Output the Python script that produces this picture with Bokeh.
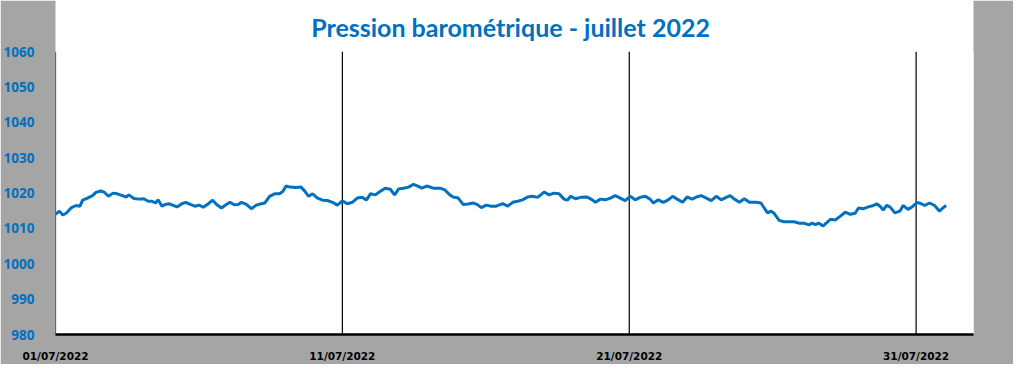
from bokeh.plotting import figure
from bokeh.models import FixedTicker, Range1d
from bokeh.embed import file_html
from bokeh.resources import INLINE
from bokeh.core.properties import value

# hours since 01/07/2022 00:00
hours = [0.0, 3.3, 6.1, 8.9, 13.0, 17.2, 20.5, 22.7, 26.8, 31.0, 33.8, 37.9, 40.7, 44.3, 48.2,
         51.7, 55.9, 59.2, 61.4, 65.6, 69.8, 73.9, 77.5, 80.8, 83.6, 85.8, 89.1, 91.9, 94.7,
         98.0, 101.6, 105.7, 109.0, 112.7, 116.8, 120.2, 123.7, 127.9, 131.5, 134.8, 138.9,
         141.7, 145.9, 149.5, 152.8,
         155.6, 159.7, 163.8, 168.0, 172.1, 175.0, 179.1, 183.3, 187.4, 190.2, 192.9, 196.2,
         201.2, 205.4, 208.2, 211.8, 215.1, 219.2, 223.4, 227.5, 231.7, 235.8, 240.0, 244.1,
         248.3, 252.4, 256.6, 260.2, 263.5, 267.6, 271.8, 275.9, 280.1, 283.7, 287.1, 291.2,
         295.4, 299.5, 303.7,
         306.4, 310.6, 316.1, 321.6, 325.8, 329.9, 332.7, 336.9, 341.0, 345.2, 349.3, 352.7,
         356.2, 360.4, 364.5, 368.7, 374.2, 378.4, 382.5, 386.7, 390.8, 395.0, 399.1, 403.3,
         408.8, 413.0, 417.1, 421.3, 425.4, 428.2, 431.0, 435.1, 439.3, 444.8, 449.0, 451.7,
         455.9,
         460.0, 464.2, 468.3, 472.5, 476.6, 480.8, 485.0, 489.1, 493.3, 497.4, 500.2, 504.3,
         508.5, 512.6, 516.3, 520.1, 524.6, 528.4, 532.8, 536.2, 540.3, 544.5, 548.6, 552.8,
         556.9, 561.1, 564.4, 568.0, 572.2, 576.3, 580.5, 586.0, 590.2, 592.9, 595.7, 598.5,
         601.2, 605.4, 609.5,
         613.7, 617.8, 622.0, 626.1, 630.3, 633.1, 635.8, 638.6, 642.2, 645.5, 648.3, 652.4,
         656.6, 660.7, 664.9, 669.0, 671.8, 676.0, 680.1, 684.3, 687.0, 689.8, 692.5, 695.3,
         698.1, 702.2, 706.4, 709.1, 713.3, 717.4, 720.8, 724.3, 727.1, 731.3, 735.4, 739.6,
         742.3, 745.1]

pressure = [1014.0, 1014.9, 1013.8, 1014.3, 1015.8, 1016.5, 1016.3, 1018.0, 1018.6, 1019.3,
            1020.2, 1020.6, 1020.3, 1019.1, 1020.0, 1019.8, 1019.3, 1018.9, 1019.5, 1018.5,
            1018.3, 1018.4, 1017.7, 1017.7, 1017.2, 1018.1, 1016.3, 1016.8, 1017.0, 1016.6,
            1016.1, 1017.0, 1017.4, 1016.8, 1016.3, 1016.6, 1016.0, 1017.0, 1018.0, 1016.8,
            1015.8, 1016.5, 1017.4, 1016.7, 1016.8,
            1017.4, 1016.8, 1015.6, 1016.6, 1017.0, 1017.2, 1019.1, 1019.8, 1019.8, 1020.5,
            1022.0, 1021.7, 1021.6, 1021.7, 1020.7, 1019.1, 1019.8, 1018.6, 1018.0, 1017.9,
            1017.4, 1016.6, 1017.8, 1017.0, 1017.4, 1018.6, 1018.8, 1018.1, 1019.8, 1019.5,
            1020.5, 1021.4, 1021.1, 1019.5, 1021.2, 1021.4, 1021.7, 1022.5, 1021.9,
            1021.4, 1022.0, 1021.4, 1021.4, 1020.9, 1019.5, 1018.9, 1018.6, 1016.8, 1016.9,
            1017.2, 1016.8, 1015.9, 1016.6, 1016.3, 1016.3, 1017.0, 1016.3, 1017.4, 1017.7,
            1018.1, 1018.9, 1019.1, 1018.8, 1020.3, 1019.5, 1020.0, 1019.8, 1018.3, 1018.0,
            1019.1, 1018.4, 1018.8, 1018.9, 1018.1, 1017.4, 1018.3,
            1018.1, 1018.6, 1019.3, 1018.6, 1017.9, 1019.1, 1018.1, 1018.8, 1019.1, 1018.3,
            1017.2, 1018.1, 1017.4, 1018.1, 1019.1, 1018.3, 1017.4, 1018.9, 1018.3, 1018.9,
            1019.3, 1018.6, 1017.9, 1019.1, 1018.1, 1018.8, 1019.3, 1018.3, 1017.4, 1018.4,
            1017.4, 1017.4, 1017.2, 1015.8, 1014.4, 1014.9, 1014.3, 1012.3, 1011.9,
            1011.9, 1011.9, 1011.5, 1011.5, 1011.0, 1011.5, 1011.1, 1011.5, 1010.7, 1011.7,
            1012.6, 1012.4, 1013.5, 1014.6, 1014.0, 1014.3, 1015.8, 1015.6, 1016.1, 1016.5,
            1017.0, 1016.3, 1015.2, 1016.5, 1016.1, 1014.4, 1014.9, 1016.5, 1015.4, 1016.3,
            1017.4, 1017.0, 1016.5, 1017.2, 1016.5, 1014.9, 1015.8, 1016.5]

tick_days = [0, 10, 20, 30]
tick_labels = ["01/07/2022", "11/07/2022", "21/07/2022", "31/07/2022"]
y_ticks = [980, 990, 1000, 1010, 1020, 1030, 1040, 1050, 1060]
title_text = "Pression barométrique - juillet 2022"

days = [h / 24.0 for h in hours]

BG = "#A5A5A5"
BLUE = "#0070C0"

# layout geometry (pixels)
W, H = 1013, 364
LEFT, RIGHT, BOTTOM = 48, 40, 25
PLOT_H = 287                      # height of the 980..1060 band
FRAME_W = W - LEFT - RIGHT
FRAME_H = H - BOTTOM
Y0, Y1 = 980, 1060
X0, X1 = 0, 32
ppu_y = PLOT_H / (Y1 - Y0)
ppu_x = FRAME_W / (X1 - X0)
y_top = Y0 + FRAME_H / ppu_y      # frame extends up to the figure top (title space)

p = figure(width=W, height=H, output_backend="svg", toolbar_location=None,
           x_range=Range1d(X0, X1), y_range=Range1d(Y0, y_top),
           min_border_left=LEFT, min_border_right=RIGHT, min_border_top=0,
           min_border_bottom=BOTTOM)
p.background_fill_color = None
p.border_fill_color = BG
p.outline_line_color = None
p.xgrid.visible = False

# vertical grid lines (white every 2 days, black every 10 days), limited to the plot band
grid_days = [d for d in range(X0, X1 + 1, 2) if d not in tick_days]
p.segment(x0=grid_days, y0=[Y0] * len(grid_days), x1=grid_days, y1=[Y1] * len(grid_days),
          line_color="white", line_width=1.3)
p.segment(x0=tick_days, y0=[Y0] * len(tick_days), x1=tick_days, y1=[Y1] * len(tick_days),
          line_color="black", line_width=1.2)

p.ygrid.ticker = FixedTicker(ticks=y_ticks)
p.ygrid.grid_line_color = "white"
p.ygrid.grid_line_width = 1.3

p.line(days, pressure, line_color=BLUE, line_width=3)

# title (centered on the figure, baseline 27px below the figure top)
title_x = (W / 2 - LEFT) / ppu_x
title_y = y_top - 27 / ppu_y
p.text(x=[title_x], y=[title_y], text=[title_text], text_align="center",
       text_baseline="alphabetic", text_color=BLUE, text_font=value("Lato"),
       text_font_style=value("bold"), text_font_size=value("25px"))

# axes
p.xaxis.ticker = FixedTicker(ticks=tick_days)
p.xaxis.major_label_overrides = {d: l for d, l in zip(tick_days, tick_labels)}
p.xaxis.major_label_text_font = "DejaVu Sans"
p.xaxis.major_label_text_font_style = "bold"
p.xaxis.major_label_text_font_size = "10.5px"
p.xaxis.major_label_text_color = "black"
p.xaxis.major_label_standoff = 9
p.xaxis.axis_line_color = "black"
p.xaxis.axis_line_width = 2.5
p.xaxis.major_tick_line_color = None
p.xaxis.minor_tick_line_color = None

p.yaxis.ticker = FixedTicker(ticks=y_ticks)
p.yaxis.major_label_text_font = "Open Sans"
p.yaxis.major_label_text_font_style = "bold"
p.yaxis.major_label_text_font_size = "13.5px"
p.yaxis.major_label_text_color = BLUE
p.yaxis.major_label_standoff = 15
p.yaxis.axis_line_color = None
p.yaxis.major_tick_line_color = None
p.yaxis.minor_tick_line_color = None

open("out.html", "w").write(file_html(p, INLINE))
